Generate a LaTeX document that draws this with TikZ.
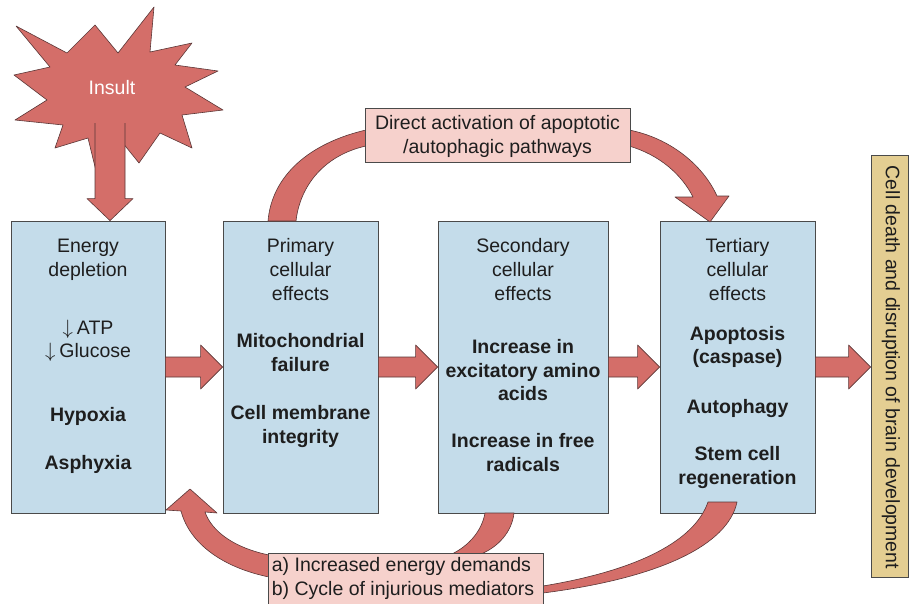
\documentclass[tikz,border=0pt]{standalone}
\usepackage{fontspec}
\setmainfont{Liberation Sans}
\usetikzlibrary{calc}
\definecolor{arrowred}{HTML}{D46E69}
\definecolor{arrowline}{HTML}{5A3636}
\definecolor{boxblue}{HTML}{C4DCEA}
\definecolor{boxline}{HTML}{4A4A4A}
\definecolor{labelpink}{HTML}{F6D1CC}
\definecolor{tanfill}{HTML}{E4CE92}
\definecolor{txt}{HTML}{1E1E1E}
\newcommand\fatright[2]{\draw[fat] let \p1=(#1.east), \p2=(#2.west) in
 (\x1,\y1+10pt) -- (\x2-22pt,\y1+10pt) -- (\x2-22pt,\y1+22pt) -- (\x2,\y1)
 -- (\x2-22pt,\y1-22pt) -- (\x2-22pt,\y1-10pt) -- (\x1,\y1-10pt) -- cycle;}
\begin{document}
\begin{tikzpicture}[x=1pt,y=-1pt,
  fat/.style={fill=arrowred,draw=arrowline,line width=0.6pt,line join=round},
  stagebox/.style={draw=boxline,fill=boxblue,line width=0.8pt,minimum height=292pt,inner sep=0pt},
  lbl/.style={draw=boxline,fill=labelpink,line width=0.8pt,inner sep=0pt},
  grp/.style={anchor=north,align=center,inner sep=0pt,text=txt,font=\fontsize{19.5}{23.7}\selectfont},
  bgrp/.style={grp,font=\fontsize{19.5}{23.7}\selectfont\bfseries},
]
\useasboundingbox (0,0) rectangle (911,603);

% stage boxes
\node[stagebox,minimum width=154pt] (b1) at (88,367) {};
\node[stagebox,minimum width=155pt] (b2) at (300.5,367) {};
\node[stagebox,minimum width=170pt] (b3) at (523,367) {};
\node[stagebox,minimum width=155pt] (b4) at (737.5,367) {};
\node[draw=boxline,fill=tanfill,line width=0.8pt,inner sep=0pt,minimum width=37pt,minimum height=422pt] (tan) at (889.5,366) {};

% insult star
\filldraw[fill=arrowred,draw=arrowline,line width=0.6pt,line join=round]
 (16,26) -- (67,53) -- (95,25) -- (118,53) -- (154,7) -- (150,52) -- (192,43) -- (175,65)
 -- (218,71) -- (185,87) -- (223,110) -- (182,115) -- (192,148) -- (160,133) -- (139,163)
 -- (118,137) -- (97,175) -- (88,138) -- (55,148) -- (63,125) -- (15,120) -- (47,100)
 -- (14,75) -- (50,67) -- cycle;
\coordinate (istem) at (110,123);
\fill[arrowred] let \p1=(istem), \p2=(b1.north) in (\x1-15pt,\y1) -- (\x1-15pt,\y2+22pt) -- (\x1-23pt,\y2+22pt) -- (\x1,\y2)
 -- (\x1+23pt,\y2+22pt) -- (\x1+15pt,\y2+22pt) -- (\x1+15pt,\y1) -- cycle;
\draw[draw=arrowline,line width=0.6pt,line join=round] let \p1=(istem), \p2=(b1.north) in (\x1-15pt,\y1) -- (\x1-15pt,\y2+22pt) -- (\x1-23pt,\y2+22pt) -- (\x1,\y2)
 -- (\x1+23pt,\y2+22pt) -- (\x1+15pt,\y2+22pt) -- (\x1+15pt,\y1);
\node[text=white,font=\fontsize{19.5}{23.7}\selectfont,inner sep=0pt] (insult) at (112,88) {Insult};

% straight arrows
\fatright{b1}{b2}
\fatright{b2}{b3}
\fatright{b3}{b4}
\fatright{b4}{tan}

% curved arrows
\draw[fat] (268,221) .. controls (272,175) and (310,143) .. (366,130) -- (366,146)
 .. controls (325,155) and (300,185) .. (296,221) -- cycle;
\draw[fat] (629,130) .. controls (670,138) and (703,165) .. (717,196) -- (729,196) -- (710,222)
 -- (675,197) -- (693,197) .. controls (682,175) and (660,155) .. (629,146) -- cycle;
\draw[fat] (269,555) .. controls (235,548) and (212,532) .. (205,512) -- (217,513) -- (190,489)
 -- (166,510) -- (181,511) .. controls (190,545) and (225,568) .. (269,577) -- cycle;
\draw[fat] (485,513) -- (514,513) .. controls (512,532) and (498,547) .. (481,554) -- (452,554)
 .. controls (470,545) and (482,530) .. (485,513) -- cycle;
\draw[fat] (708,502) -- (737,502) .. controls (728,545) and (660,578) .. (543,593) -- (543,586)
 .. controls (640,570) and (695,540) .. (708,502) -- cycle;

% label boxes
\node[lbl,minimum width=265pt,minimum height=54pt] (top) at (497.5,135) {};
\node[lbl,minimum width=275pt,minimum height=53pt] (bot) at (405.5,579.5) {};
\node[grp] (toptxt) at (497.5,112.7) {\strut Direct activation of apoptotic\\/autophagic pathways};
\node[grp,anchor=north west,align=left] (bottxt) at (271.7,555.1) {\strut a) Increased energy demands\\b) Cycle of injurious mediators};

% box texts
\node[grp] (e1) at (88,236.1) {\strut Energy\\depletion};
\node[grp] (e2) at (88,317.4) {\strut $\downarrow$\hspace{4pt}ATP\\$\downarrow$\hspace{4pt}Glucose};
\node[bgrp] (e3) at (88,405.1) {\strut Hypoxia};
\node[bgrp] (e4) at (88,452.7) {\strut Asphyxia};

\node[grp] (p1) at (300.5,236.1) {\strut Primary\\cellular\\effects};
\node[bgrp] (p2) at (300.5,330.7) {\strut Mitochondrial\\failure};
\node[bgrp] (p3) at (300.5,402.7) {\strut Cell membrane\\integrity};

\node[grp] (s1) at (523,236.1) {\strut Secondary\\cellular\\effects};
\node[bgrp] (s2) at (523,336.7) {\strut Increase in\\excitatory amino\\acids};
\node[bgrp] (s3) at (523,430.7) {\strut Increase in free\\radicals};

\node[grp] (r1) at (737.5,236.1) {\strut Tertiary\\cellular\\effects};
\node[bgrp] (r2) at (737.5,323.4) {\strut Apoptosis\\(caspase)};
\node[bgrp] (r3) at (737.5,396.7) {\strut Autophagy};
\node[bgrp] (r4) at (737.5,444.1) {\strut Stem cell\\regeneration};

\node[rotate=-90,inner sep=0pt,text=txt,font=\fontsize{19.5}{23.7}\selectfont] (tantxt) at (891,367.5) {Cell death and disruption of brain development};
\end{tikzpicture}
\end{document}
